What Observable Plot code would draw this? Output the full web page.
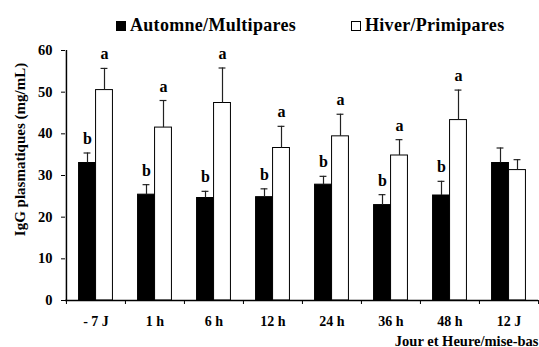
<!DOCTYPE html>
<html>
<head>
<meta charset="utf-8">
<script src="https://cdn.jsdelivr.net/npm/d3@7"></script>
<script src="https://cdn.jsdelivr.net/npm/@observablehq/plot@0.6"></script>
<style>
  body { margin: 0; background: #fff; font-family: 'Liberation Serif', serif; }
  #legend { position: relative; width: 539px; height: 40px; font-family: 'Liberation Serif', serif; font-weight: bold; font-size: 18px; letter-spacing: 0.3px; color: #000; }
  #legend .item { position: absolute; top: 15px; display: flex; align-items: center; white-space: nowrap; }
  #legend .sw { width: 8px; height: 8px; border: 1px solid #000; margin-right: 4px; }
</style>
</head>
<body>
<div id="legend">
  <div class="item" style="left:116px"><span class="sw" style="background:#000"></span>Automne/Multipares</div>
  <div class="item" style="left:351px"><span class="sw" style="background:#fff"></span>Hiver/Primipares</div>
</div>
<div id="chart"></div>
<script>
// IgG plasmatiques (mg/mL), moyenne + écart-type, par groupe et par moment de prélèvement
const categories = ["- 7 J", "1 h", "6 h", "12 h", "24 h", "36 h", "48 h", "12 J"];
const automne = [33.0, 25.4, 24.6, 24.8, 27.8, 22.9, 25.2, 33.0];
const automneErr = [2.4, 2.4, 1.6, 2.0, 2.0, 2.5, 3.4, 3.6];
const automneSig = ["b", "b", "b", "b", "b", "b", "b", ""];
const hiver = [50.5, 41.5, 47.4, 36.6, 39.4, 34.8, 43.3, 31.3];
const hiverErr = [5.2, 6.5, 8.4, 5.2, 5.3, 3.8, 7.2, 2.5];
const hiverSig = ["a", "a", "a", "a", "a", "a", "a", ""];
const yTicks = [0, 10, 20, 30, 40, 50, 60];

const rows = (vals, errs, sig) => categories.map((c, i) => ({cat: c, v: vals[i], top: vals[i] + errs[i], sig: sig[i]}));
const A = rows(automne, automneErr, automneSig);
const H = rows(hiver, hiverErr, hiverSig);

const W = 539, mL = 65, mR = 1;
const step = (W - mL - mR) / categories.length;
const barW = 17, cap = 7;
const half = step / 2;
const font = "'Liberation Serif', serif";

const chart = Plot.plot({
  width: W,
  height: 307,
  marginLeft: mL,
  marginRight: mR,
  marginTop: 10,
  marginBottom: 47,
  style: {fontFamily: font, fontWeight: "bold", fontSize: "14px", color: "#000", background: "#fff", overflow: "visible"},
  x: {type: "band", domain: categories, paddingInner: 0, paddingOuter: 0, label: null},
  y: {domain: [0, 60], label: null},
  marks: [
    // bars
    Plot.barY(A, {x: "cat", y: "v", fill: "#000", stroke: "#000", strokeWidth: 1, insetLeft: half - barW, insetRight: half}),
    Plot.barY(H, {x: "cat", y: "v", fill: "#fff", stroke: "#000", strokeWidth: 1, insetLeft: half, insetRight: half - barW}),
    // error bars (upper side)
    Plot.ruleX(A, {x: "cat", y1: "v", y2: "top", dx: -barW / 2, stroke: "#222", strokeWidth: 1.2}),
    Plot.ruleX(H, {x: "cat", y1: "v", y2: "top", dx: barW / 2, stroke: "#222", strokeWidth: 1.2}),
    Plot.tickY(A, {x: "cat", y: "top", stroke: "#222", strokeWidth: 1.2, insetLeft: half - barW / 2 - cap / 2, insetRight: half + barW / 2 - cap / 2}),
    Plot.tickY(H, {x: "cat", y: "top", stroke: "#222", strokeWidth: 1.2, insetLeft: half + barW / 2 - cap / 2, insetRight: half - barW / 2 - cap / 2}),
    // significance letters
    Plot.text(A, {x: "cat", y: "top", text: "sig", dx: -barW / 2, dy: -9, lineAnchor: "bottom", fontSize: 16}),
    Plot.text(H, {x: "cat", y: "top", text: "sig", dx: barW / 2, dy: -9, lineAnchor: "bottom", fontSize: 16}),
    // axes
    Plot.ruleY([0], {stroke: "#000", strokeWidth: 1.5}),
    Plot.ruleX([categories[0]], {dx: -half, y1: 0, y2: 60, stroke: "#000", strokeWidth: 1.5}),
    Plot.axisY({ticks: yTicks, tickSize: 4, tickPadding: 9, tickFormat: d => d, stroke: "#000", fontSize: 14.5}),
    Plot.axisX({tickSize: 0, tickPadding: 16, label: null}),
    Plot.axisX({tickSize: 4, text: null, dx: -half, label: null, stroke: "#000"}),
    Plot.axisX({ticks: [categories[categories.length - 1]], tickSize: 4, text: null, dx: half, label: null, stroke: "#000"}),
    // axis titles
    Plot.text(["IgG plasmatiques (mg/mL)"], {frameAnchor: "left", textAnchor: "middle", rotate: -90, dx: -45, dy: -26, fontSize: 15}),
    Plot.text(["Jour et Heure/mise-bas"], {frameAnchor: "bottom-right", textAnchor: "end", lineAnchor: "bottom", dy: 45, fontSize: 14.5})
  ]
});
document.getElementById("chart").appendChild(chart);
</script>
</body>
</html>
